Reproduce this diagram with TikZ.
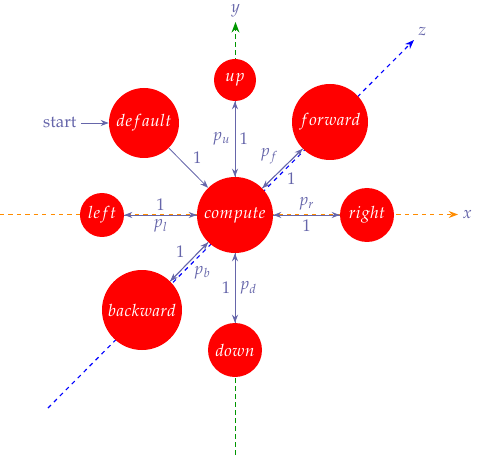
\documentclass[tikz,border=0pt]{standalone}
\usepackage[T1]{fontenc}
\usepackage{mathpazo}
\usetikzlibrary{arrows.meta}
\definecolor{edgeblue}{RGB}{102,102,170}
\definecolor{axisorange}{RGB}{255,140,0}
\definecolor{axisgreen}{RGB}{0,150,0}

\begin{document}
\begin{tikzpicture}[>=Stealth,line join=round,font=\large,
  statenode/.style={circle,fill=red,text=white,inner sep=0pt},
  trans/.style={->,draw=edgeblue,semithick},
  lbl/.style={text=edgeblue,inner sep=3pt},
  axis/.style={->,dashed,thick}]
\useasboundingbox (-5.875,-6.0) rectangle (6.05,5.375);
% --- axes
\coordinate (xa) at (-5.875,0.0125); \coordinate (xb) at (5.575,0.0125);
\coordinate (ya) at (0.0125,4.6); \coordinate (yb) at (0.0125,4.825);
\coordinate (za) at (-4.675,-4.825); \coordinate (zb) at (4.475,4.375);
\draw[axis,color=blue] (za) -- (zb);
\draw[axis,color=axisorange] (xa) -- (xb);
\foreach \t in {0,...,52} {\draw[axisgreen,line width=1pt] (0.0125,-6.0+0.2*\t) -- ++(0,0.12);}
\draw[->,axisgreen,line width=1pt] (ya) -- (yb);
\node[lbl,right] (xlab) at (xb) {$x$};
\node[lbl,above] (ylab) at (yb) {$y$};
\node[lbl,above right] (zlab) at (zb) {$z$};
% --- states
\node[statenode,minimum size=1.9cm] (compute) at (0,0) {$compute$};
\node[statenode,minimum size=1.05cm] (up) at (0,3.375) {$up$};
\node[statenode,minimum size=1.35cm] (down) at (0,-3.375) {$down$};
\node[statenode,minimum size=1.1cm] (left) at (-3.325,0) {$left$};
\node[statenode,minimum size=1.35cm] (right) at (3.3,0) {$right$};
\node[statenode,minimum size=1.75cm] (default) at (-2.275,2.3) {$default$};
\node[statenode,minimum size=1.9cm] (forward) at (2.375,2.325) {$forward$};
\node[statenode,minimum size=2.0cm] (backward) at (-2.325,-2.375) {$backward$};
\node[lbl,anchor=east] (start) at (-3.85,2.3) {start};
% --- transitions
\draw[trans] (start) -- (default);
\draw[trans] (default) -- node[lbl,above right] (l0) {1} (compute);
\draw[trans] (compute) -- node[lbl,left] (pu) {$p_u$} (up);
\draw[trans] (up) -- node[lbl,right] (lu) {1} (compute);
\draw[trans] (compute) -- node[lbl,right] (pd) {$p_d$} (down);
\draw[trans] (down) -- node[lbl,left] (ld) {1} (compute);
\draw[trans] (compute) -- node[lbl,below] (pl) {$p_l$} (left);
\draw[trans] (left) -- node[lbl,above] (ll) {1} (compute);
\draw[trans] (compute) -- node[lbl,above] (pr) {$p_r$} (right);
\draw[trans] (right) -- node[lbl,below] (lr) {1} (compute);
\draw[trans] (compute) -- node[lbl,above left] (pf) {$p_f$} (forward);
\draw[trans] (forward) -- node[lbl,below right] (lf) {1} (compute);
\draw[trans] (compute) -- node[lbl,below right] (pb) {$p_b$} (backward);
\draw[trans] (backward) -- node[lbl,above left] (lb) {1} (compute);
\end{tikzpicture}
\end{document}
